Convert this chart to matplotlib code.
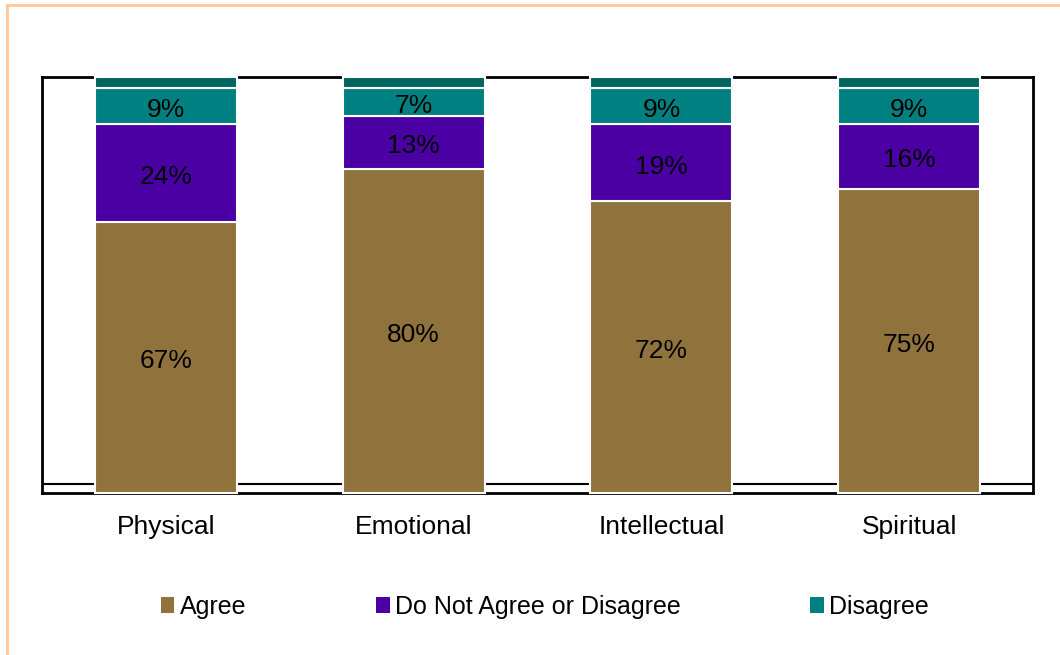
import matplotlib.pyplot as plt
from matplotlib.lines import Line2D
from matplotlib.patches import Patch

plt.rcParams['font.family'] = ['Liberation Sans', 'DejaVu Sans']

categorias = ['Physical', 'Emotional', 'Intellectual', 'Spiritual']
agree = [67, 80, 72, 75]
neutro = [24, 13, 19, 16]
disagree = [9, 7, 9, 9]

cores = ['#8F723C', '#4B00A3', '#008080']
cor_topo = '#006461'
nomes = ['Agree', 'Do Not Agree or Disagree', 'Disagree']

fig = plt.figure(figsize=(10.6, 6.55), dpi=100)
ax = fig.add_axes([42/1060, 1-493/655, 991/1060, 416/655])

x = list(range(len(categorias)))
largura = 0.573
base = [0]*len(x)
for serie, cor in zip([agree, neutro, disagree], cores):
    ax.bar(x, serie, largura, bottom=base, color=cor, edgecolor='white',
           linewidth=1.5, zorder=3, clip_on=False)
    for xi, b, v in zip(x, base, serie):
        ax.text(xi, b + v/2 - 0.9, f'{v}%', ha='center', va='center', fontsize=19, zorder=4)
    base = [b + v for b, v in zip(base, serie)]

# tampa "3D" no topo das barras
ax.bar(x, [2.7]*len(x), largura, bottom=base, color=cor_topo, edgecolor='white',
       linewidth=1.5, zorder=3, clip_on=False)

ax.set_xlim(-0.5, 3.5)
ax.set_ylim(0, 102.7)
ax.set_yticks([])
ax.set_xticks(x)
ax.set_xticklabels(categorias, fontsize=19)
ax.tick_params(axis='x', length=0, pad=16)
for s in ax.spines.values():
    s.set_linewidth(2)
    s.set_color('black')
# linha do "chao"
ax.axhline(2.2, color='black', linewidth=1.5, zorder=2)

handles = [Patch(facecolor=c, edgecolor='none') for c in cores]
fig.legend(handles, nomes, loc='center', bbox_to_anchor=(0.514, 1-607/655), ncol=3,
           frameon=False, fontsize=18, handlelength=0.55, handleheight=0.6,
           handletextpad=0.2, columnspacing=5.2)

# moldura laranja
fig.add_artist(Line2D([7/1060, 7/1060], [0, 1-5/655], color='#FFC896', linewidth=2))
fig.add_artist(Line2D([7/1060, 1], [1-5/655, 1-5/655], color='#FFC896', linewidth=2))

fig.savefig('out.png', dpi=100)
